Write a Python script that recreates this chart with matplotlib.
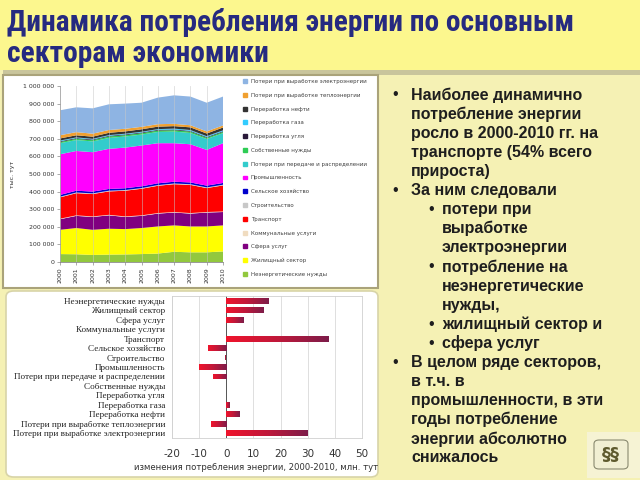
import numpy as np
import matplotlib
matplotlib.use("Agg")
import matplotlib.pyplot as plt
from matplotlib import font_manager
from matplotlib.font_manager import FontProperties
from matplotlib.patches import Rectangle, FancyBboxPatch, Patch
from matplotlib.colors import LinearSegmentedColormap
from matplotlib.ticker import FuncFormatter, MultipleLocator

plt.rcParams["axes.unicode_minus"] = False

# ---- data: stacked consumption by sector, thousand tce (bottom -> top)
years = [2000, 2001, 2002, 2003, 2004, 2005, 2006, 2007, 2008, 2009, 2010]

nonenergy = [45000, 44000, 40000, 42000, 43000, 45000, 48000, 58000, 55000, 55000, 60000]
housing = [138000, 149000, 143000, 147000, 144000, 148000, 154000, 150000, 147000, 147000, 148000]
services = [60000, 69000, 73000, 76000, 69000, 69000, 73000, 73000, 73000, 79000, 76000]
communal = [3000, 3000, 3000, 3000, 3000, 3000, 3000, 3000, 3000, 3000, 3000]
transport = [121000, 126000, 127000, 133000, 146000, 151000, 155000, 158000, 160000, 136000, 148000]
construction = [4000, 4000, 4000, 4000, 4000, 4000, 4000, 4000, 4000, 4000, 4000]
agriculture = [10000, 10000, 10000, 10000, 10000, 10000, 10000, 10000, 10000, 10000, 10000]
industry = [231000, 226000, 224000, 228000, 231000, 232000, 228000, 219000, 217000, 203000, 226000]
grid_losses = [63000, 62000, 61000, 62000, 63000, 62000, 64000, 66000, 64000, 62000, 57000]
own_needs = [7000, 7000, 7000, 8000, 8000, 8000, 8000, 8000, 8000, 7000, 7000]
coal_proc = [4000, 4000, 4000, 4000, 4000, 4000, 4000, 4000, 4000, 4000, 4000]
gas_proc = [4000, 4000, 4000, 4000, 4000, 4000, 4000, 5000, 5000, 5000, 5000]
oil_proc = [12000, 12000, 12000, 13000, 13000, 14000, 14000, 14000, 15000, 15000, 16000]
heat_losses = [18000, 18000, 17000, 16000, 15000, 14000, 14000, 13000, 12000, 12000, 12000]
power_losses = [142000, 141000, 144000, 146000, 143000, 137000, 151000, 162000, 163000, 163000, 164000]

stack_names = ["Неэнергетические нужды", "Жилищный сектор", "Сфера услуг",
               "Коммунальные услуги", "Транспорт", "Строительство",
               "Сельское хозяйство", "Промышленность",
               "Потери при передаче и распределении", "Собственные нужды",
               "Переработка угля", "Переработка газа", "Переработка нефти",
               "Потери при выработке теплоэнергии",
               "Потери при выработке электроэнергии"]
stack_colors = ["#92c83e", "#ffff00", "#800080", "#f0dcc0", "#ff0000", "#c8c8c8",
                "#0000cc", "#ff00ff", "#33cccc", "#2ecc55", "#2a1a3a", "#33ccff",
                "#333333", "#f0a030", "#8eb4e3"]

# ---- data: change 2000-2010, mln tce
bar_cats = ["Неэнергетические нужды", "Жилищный сектор", "Сфера услуг",
            "Коммунальные услуги", "Транспорт", "Сельское хозяйство",
            "Строительство", "Промышленность",
            "Потери при передаче и распределении", "Собственные нужды",
            "Переработка угля", "Переработка газа", "Переработка нефти",
            "Потери при выработке теплоэнергии",
            "Потери при выработке электроэнергии"]
bar_vals = [15.8, 14.0, 6.5, 0.0, 37.8, -6.7, -0.3, -10.0, -4.8, 0.0, 0.0, 1.2, 4.9, -5.6, 29.9]

title_lines = ["Динамика потребления энергии по основным", "секторам экономики"]

# (level, has bullet, text)
notes = [
    (0, True, "Наиболее динамично"),
    (0, False, "потребление энергии"),
    (0, False, "росло в 2000-2010 гг. на"),
    (0, False, "транспорте (54% всего"),
    (0, False, "прироста)"),
    (0, True, "За ним следовали"),
    (1, True, "потери при"),
    (1, False, "выработке"),
    (1, False, "электроэнергии"),
    (1, True, "потребление на"),
    (1, False, "неэнергетические"),
    (1, False, "нужды,"),
    (1, True, "жилищный сектор и"),
    (1, True, "сфера услуг"),
    (0, True, "В целом ряде секторов,"),
    (0, False, "в т.ч. в"),
    (0, False, "промышленности, в эти"),
    (0, False, "годы потребление"),
    (0, False, "энергии абсолютно"),
    (0, False, "снижалось"),
]

W, H = 640, 480
def fx(x):
    return x / W
def fy(y):
    return 1 - y / H

fig = plt.figure(figsize=(6.4, 4.8), dpi=100, facecolor="#f5f1b4")
renderer = fig.canvas.get_renderer()

# slide background pieces
fig.add_artist(Rectangle((0, fy(70)), 1, 70 / H, transform=fig.transFigure,
                         facecolor="#fcf78e", edgecolor="none", zorder=0))
fig.add_artist(Rectangle((fx(3), fy(75)), 1, 5 / H, transform=fig.transFigure,
                         facecolor="#c9c59c", edgecolor="none", zorder=0))
# top chart panel
fig.add_artist(Rectangle((fx(3), fy(288)), 375 / W, 213 / H, transform=fig.transFigure,
                         facecolor="white", edgecolor="#aaa37a", lw=1.5, zorder=0))
# bottom chart panel
fig.add_artist(FancyBboxPatch((fx(6), fy(477)), 372 / W, 186 / H,
                              boxstyle="round,pad=0,rounding_size=0.012",
                              transform=fig.transFigure, facecolor="white",
                              edgecolor="#d8d4a8", lw=1.2, zorder=0))

# title: pick the narrowest bold face available, then fit the width
cands = [("Roboto Condensed", "normal"), ("Open Sans Condensed", "normal"),
         ("Liberation Sans Narrow", "normal"), ("DejaVu Sans", "condensed"),
         ("Liberation Sans", "normal")]
best = None
for fam, st in cands:
    try:
        font_manager.findfont(FontProperties(family=fam, weight="bold", stretch=st),
                              fallback_to_default=False)
    except Exception:
        continue
    t = fig.text(0, 0, title_lines[0], fontsize=22, fontweight="bold", family=fam, fontstretch=st)
    w = t.get_window_extent(renderer).width
    t.remove()
    if best is None or w < best[2]:
        best = (fam, st, w)
fam_t, st_t, w_t = best if best else ("DejaVu Sans", "normal", 700)
title_fs = min(23, 22 * 567 / w_t)
fig.text(fx(7), fy(31), title_lines[0], fontsize=title_fs, fontweight="bold",
         color="#262a80", family=fam_t, fontstretch=st_t, va="baseline", ha="left")
fig.text(fx(7), fy(62), title_lines[1], fontsize=title_fs, fontweight="bold",
         color="#262a80", family=fam_t, fontstretch=st_t, va="baseline", ha="left")

# ---- stacked area chart
ax1 = fig.add_axes([fx(60), fy(262), (223 - 60) / W, (262 - 86) / H])
ax1.stackplot(years, nonenergy, housing, services, communal, transport,
              construction, agriculture, industry, grid_losses, own_needs,
              coal_proc, gas_proc, oil_proc, heat_losses, power_losses,
              colors=stack_colors, labels=stack_names, lw=0)
ax1.set_xlim(2000, 2010)
ax1.set_ylim(0, 1000000)
ax1.yaxis.set_major_locator(MultipleLocator(100000))
ax1.yaxis.set_major_formatter(FuncFormatter(lambda v, p: f"{int(v):,}".replace(",", " ")))
ax1.set_xticks(years)
ax1.set_xticklabels([str(y) for y in years], rotation=90)
ax1.tick_params(labelsize=4.5, labelcolor="#333333", length=2, width=0.5, color="#888888", pad=2)
ax1.set_axisbelow(False)
ax1.grid(axis="x", color="#c8c8c8", lw=0.6, alpha=0.6)
for s in ["top", "right"]:
    ax1.spines[s].set_visible(False)
for s in ["left", "bottom"]:
    ax1.spines[s].set_color("#888888")
    ax1.spines[s].set_linewidth(0.6)
ax1.set_ylabel("тыс. тут", fontsize=4.5, color="#333333", labelpad=6)

fig.legend([Patch(color=c) for c in stack_colors[::-1]], stack_names[::-1],
           loc="upper left", bbox_to_anchor=(fx(243), fy(79)), frameon=False,
           fontsize=4.0, labelcolor="#404040", handlelength=0.7, handleheight=0.7,
           handletextpad=0.7, labelspacing=1.58, borderaxespad=0, borderpad=0)

# ---- horizontal bar chart
ax2 = fig.add_axes([fx(172), fy(438), (362 - 172) / W, (438 - 296) / H])
ypos = np.arange(len(bar_cats))
bars = ax2.barh(ypos, bar_vals, height=0.62, color="none", edgecolor="none")
cmap = LinearSegmentedColormap.from_list("redgrad", ["#f0142c", "#c0183a", "#7d1d4a"])
grad = np.linspace(0, 1, 256).reshape(1, -1)
for b in bars:
    x0, y0 = b.get_x(), b.get_y()
    w, hh = b.get_width(), b.get_height()
    if w == 0:
        continue
    xa, xb = min(x0, x0 + w), max(x0, x0 + w)
    im = ax2.imshow(grad, extent=[xa, xb, y0, y0 + hh], cmap=cmap, aspect="auto",
                    origin="lower", zorder=2)
    im.set_clip_path(b)
ax2.set_xlim(-20, 50)
ax2.set_ylim(len(bar_cats) - 0.5, -0.5)
ax2.set_xticks([-20, -10, 0, 10, 20, 30, 40, 50])
ax2.set_yticks(ypos)
ax2.set_yticklabels(bar_cats, family=["Liberation Serif", "DejaVu Serif"], fontsize=6.6, color="#222222")
ax2.tick_params(axis="x", labelsize=7.5, labelcolor="#333333", length=0, pad=8)
ax2.tick_params(axis="y", length=0, pad=5)
ax2.grid(axis="x", color="#d9d9d9", lw=0.6)
ax2.set_axisbelow(True)
ax2.axvline(0, color="#555555", lw=0.7, zorder=1)
for s in ax2.spines.values():
    s.set_color("#d0d0d0")
    s.set_linewidth(0.6)
fig.text(fx(256), fy(468), "изменения потребления энергии, 2000-2010, млн. тут",
         fontsize=6.1, color="#333333", ha="center", va="center")

# ---- bullet text on the right
fam_txt = ["Liberation Sans", "DejaVu Sans"]
for i, (lvl, bullet, txt) in enumerate(notes):
    yy = fy(95 + i * 19.1)
    bx, tx = (395, 411) if lvl == 0 else (431, 442)
    if bullet:
        fig.text(fx(bx), yy, "•", fontsize=11.5, color="#1e1e1e", family=fam_txt,
                 ha="center", va="center")
    fig.text(fx(tx), yy, txt, fontsize=11.5, fontweight="bold", color="#1e1e1e",
             family=fam_txt, ha="left", va="center")

# ---- logo
fig.add_artist(Rectangle((fx(587), fy(478)), 53 / W, 46 / H, transform=fig.transFigure,
                         facecolor="#f6f3d4", edgecolor="none", zorder=0))
fig.add_artist(FancyBboxPatch((fx(594), fy(469)), 34 / W, 29 / H,
                              boxstyle="round,pad=0,rounding_size=0.008",
                              transform=fig.transFigure, facecolor="#f1efd3",
                              edgecolor="#8a8a70", lw=0.8, zorder=1))
fig.text(fx(611), fy(455), "§§", fontsize=13, fontweight="bold", color="#5e5a2e",
         ha="center", va="center")

fig.savefig("out.png", dpi=100, facecolor=fig.get_facecolor())
